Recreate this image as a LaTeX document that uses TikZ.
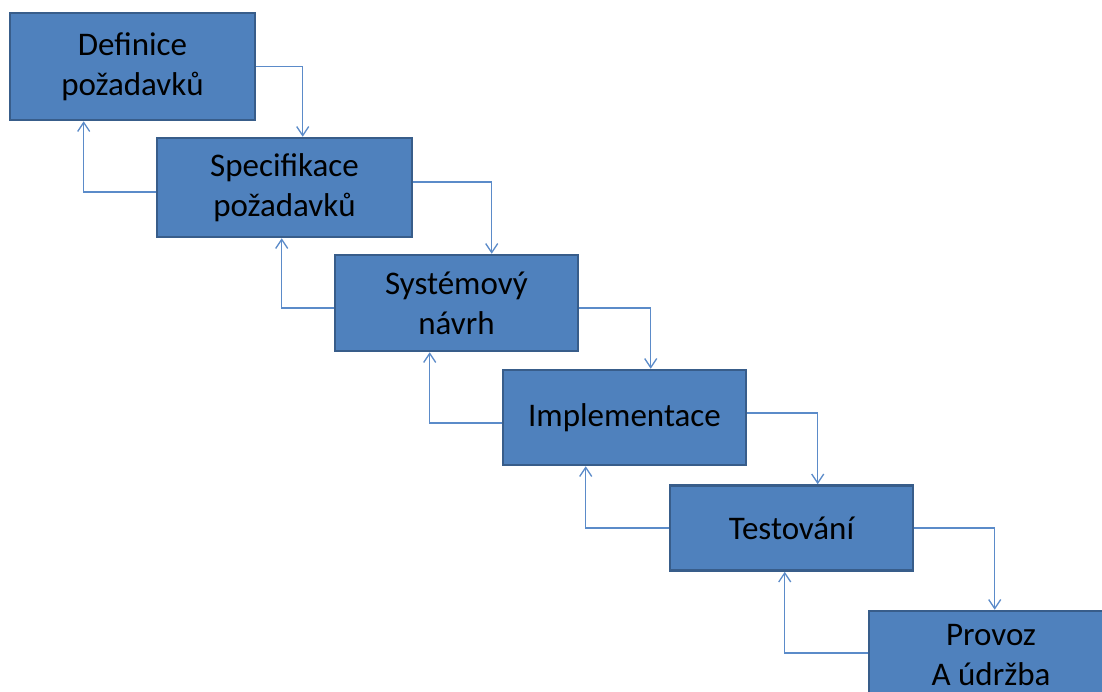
\documentclass[tikz,border=0pt]{standalone}
\usepackage{fontspec}
\setmainfont{Carlito}
\usetikzlibrary{arrows.meta}
\definecolor{boxfill}{HTML}{4F81BD}
\definecolor{boxline}{HTML}{385D8A}
\definecolor{connc}{HTML}{5B8BC9}
\tikzset{
  stage/.style={rectangle, draw=boxline, line width=2.6pt, fill=boxfill, inner sep=0pt,
    align=center, font=\fontsize{33}{40}\selectfont, text=black},
  conn/.style={draw=connc, line width=1.3pt, -{Straight Barb[length=9pt,width=12pt,line width=1.3pt]}}
}
\begin{document}
\begin{tikzpicture}[x=1pt,y=-1pt]
\path[use as bounding box] (0,0) rectangle (1102,691);
\clip (0,0) rectangle (1102,691);
\fill[white] (0,0) rectangle (1102,691);
\node[stage, minimum width=245pt, minimum height=107pt] (b1) at (132.5,66.5) {Definice\\požadavků};
\node[stage, minimum width=255pt, minimum height=99pt] (b2) at (284.5,187.5) {Specifikace\\požadavků};
\node[stage, minimum width=243pt, minimum height=96pt] (b3) at (456.5,303) {Systémový\\návrh};
\node[stage, minimum width=243pt, minimum height=95pt] (b4) at (624.5,417.5) {Implementace};
\node[stage, minimum width=243pt, minimum height=85pt] (b5) at (791.5,528) {Testování};
\node[stage, minimum width=244pt, minimum height=88pt] (b6) at (991,655) {Provoz\\A údržba};
% forward
\draw[conn] (b1.east) -| ([xshift=147pt]b2.north west);
\draw[conn] ([yshift=5.5pt]b2.east) -| ([xshift=158pt]b3.north west);
\draw[conn] ([yshift=-5pt]b3.east) -| ([xshift=149pt]b4.north west);
\draw[conn] ([yshift=4.5pt]b4.east) -| ([xshift=149pt]b5.north west);
\draw[conn] (b5.east) -| ([xshift=127pt]b6.north west);
% backward
\draw[conn] ([yshift=-4.5pt]b2.west) -| ([xshift=75pt]b1.south west);
\draw[conn] ([yshift=-5pt]b3.west) -| ([xshift=126pt]b2.south west);
\draw[conn] ([yshift=-5.5pt]b4.west) -| ([xshift=96pt]b3.south west);
\draw[conn] (b5.west) -| ([xshift=84pt]b4.south west);
\draw[conn] ([yshift=2pt]b6.west) -| ([xshift=116pt]b5.south west);
\end{tikzpicture}
\end{document}
